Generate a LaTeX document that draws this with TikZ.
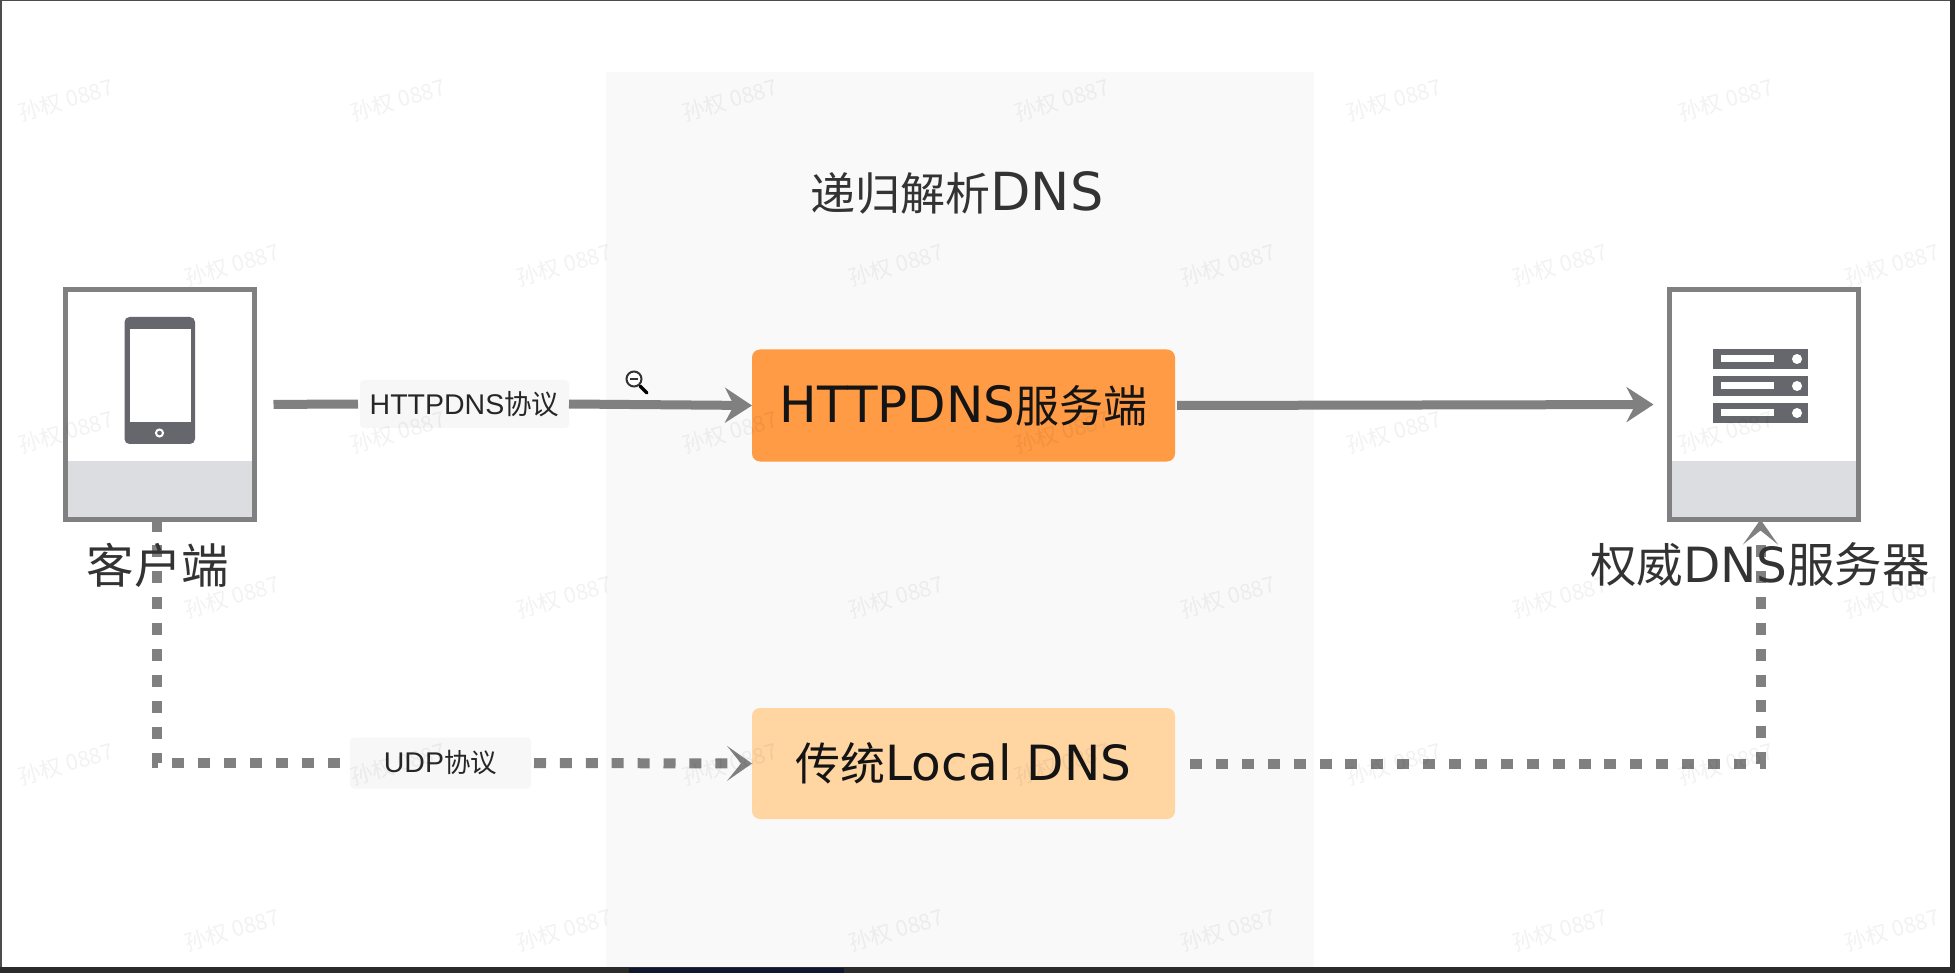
\documentclass[tikz,border=0pt]{standalone}
\usepackage{fontspec}
\usetikzlibrary{arrows.meta}
\newfontfamily\cjkf{Noto Sans CJK SC}
\newfontfamily\latf{DejaVu Sans}
\newfontfamily\helf{Liberation Sans}
\newcommand\CJ[2]{{\fontsize{#1}{#1}\selectfont\cjkf #2}}
\newcommand\LA[2]{{\fontsize{#1}{#1}\selectfont\latf #2}}
\newcommand\HE[2]{{\fontsize{#1}{#1}\selectfont\helf #2}}
\definecolor{linegray}{HTML}{808080}
\definecolor{iconc}{HTML}{66676D}
\definecolor{bandc}{HTML}{DCDDE0}
\definecolor{panelc}{HTML}{F9F9F9}
\definecolor{orangea}{HTML}{FF9A45}
\definecolor{orangeb}{HTML}{FFD5A2}
\definecolor{labelc}{HTML}{F7F7F7}
\definecolor{textc}{HTML}{333333}
\definecolor{barc}{HTML}{2B2B2B}
\definecolor{navyc}{HTML}{101830}
\tikzset{
  devbox/.style={draw=linegray,fill=white,line width=5pt,minimum width=189.5pt,minimum height=230pt,inner sep=0pt,outer sep=0pt},
  svcbox/.style={rounded corners=8pt,minimum width=423pt,minimum height=112pt,inner sep=0pt,outer sep=0pt,text=black!92},
  lab/.style={fill=labelc,rounded corners=4pt,inner sep=0pt,outer sep=0pt,text=black!85},
  solidline/.style={draw=linegray,line width=9pt,-{Stealth[length=27pt,width=35pt,inset=9pt]}},
  plainline/.style={draw=linegray,line width=9pt},
  dashline/.style={draw=linegray,line width=10pt,dash pattern=on 12pt off 13.9pt},
  dasharrow/.style={dashline,-{Stealth[length=25pt,width=35pt,inset=14pt]}},
  caption/.style={inner sep=0pt,outer sep=0pt,text=textc},
  wmark/.style={inner sep=0pt,text=black,opacity=.05,rotate=16}
}
\begin{document}
\begin{tikzpicture}[x=1pt,y=-1pt]
\useasboundingbox (0,0) rectangle (1955,973);
\fill[white] (0,0) rectangle (1955,973);
% recording frame
\fill[panelc] (606,72) rectangle (1314,967);
\fill[black!70] (0,0) rectangle (1955,1.5);
\fill[black!70] (0,0) rectangle (1.5,973);
\fill[barc] (1950,0) rectangle (1955,973);
\fill[barc] (0,967) rectangle (1955,973);
\fill[navyc] (629,968) rectangle (844,973);
% nodes
\node[devbox] (client) at (159.75,404.5) {};
\node[devbox,minimum width=189pt] (auth) at (1764,404.5) {};
\fill[bandc] ([yshift=59pt]client.south west) rectangle (client.south east);
\fill[bandc] ([yshift=59pt]auth.south west) rectangle (auth.south east);
\draw[linegray,line width=5pt] (client.south west) rectangle (client.north east);
\draw[linegray,line width=5pt] (auth.south west) rectangle (auth.north east);
\node[svcbox,fill=orangea] (http) at (963.5,405.5) {\LA{50}{HTTPDNS}\CJ{44}{服务端}};
\node[svcbox,fill=orangeb,minimum height=111pt] (local) at (963.5,763.5) {\raisebox{1pt}{\CJ{45}{传统}\LA{48.5}{Local DNS}}};
\node[lab,minimum width=209pt,minimum height=48pt] (labhttp) at (464.5,404) {\raisebox{1pt}{\HE{28.5}{HTTPDNS}\CJ{27.5}{协议}}};
\node[lab,minimum width=181pt,minimum height=51pt] (labudp) at (440.5,763) {\raisebox{1pt}{\HE{28.5}{UDP}\CJ{26.5}{协议}}};
% connectors
\draw[plainline,shorten <=19pt,shorten >=2pt] (client.east) -- (labhttp.west);
\draw[solidline] (labhttp.east) -- (http.west);
\draw[solidline,shorten <=2pt,shorten >=16pt] (http.east) -- (auth.west);
\draw[dashline] ([xshift=-3pt]client.south) |- (labudp.west);
\draw[dasharrow,shorten <=3pt] (labudp.east) -- (local.west);
\draw[dasharrow,shorten <=15pt] (local.east) -| ([xshift=-3.5pt]auth.south);
% captions
\node[caption] (capclient) at (158,565) {\CJ{47.5}{客户端}};
\node[caption] (capauth) at (1760,565) {\CJ{46.5}{权威}\LA{48.5}{DNS}\CJ{47.5}{服务器}};
\node[caption] (title) at (957,193) {\CJ{45}{递归解析}\LA{52.5}{DNS}};
% phone icon
\fill[iconc,rounded corners=5pt] (124.5,317) rectangle (195,444);
\fill[white] (130,329) rectangle (190.5,422);
\draw[white,line width=2pt] (159.5,433) circle (3.5pt);
% server icon
\foreach \yy in {349,376,403}{
  \fill[iconc] (1713,\yy) rectangle (1808,\yy+20);
  \fill[white] (1721,\yy+6.5) rectangle (1774,\yy+13.5);
  \fill[white] (1797,\yy+10) circle (5pt);
}
% pointer (zoom-out cursor)
\draw[black,line width=3.5pt,line cap=round] (640,386) -- (647,393);
\draw[black!80,fill=white,line width=2pt] (634,379) circle (7.5pt);
\draw[black!80,line width=2pt] (630,379) -- (638,379);
% watermarks
\foreach \yy in {100,432,764}{
  \foreach \xx in {66,398,730,1062,1394,1726}{
    \node[wmark] (wma\xx\yy) at (\xx,\yy) {\CJ{22}{孙权 0887}};
  }
}
\foreach \yy in {265,597,930}{
  \foreach \xx in {232,564,896,1228,1560,1892}{
    \node[wmark] (wmb\xx\yy) at (\xx,\yy) {\CJ{22}{孙权 0887}};
  }
}
\end{tikzpicture}
\end{document}
